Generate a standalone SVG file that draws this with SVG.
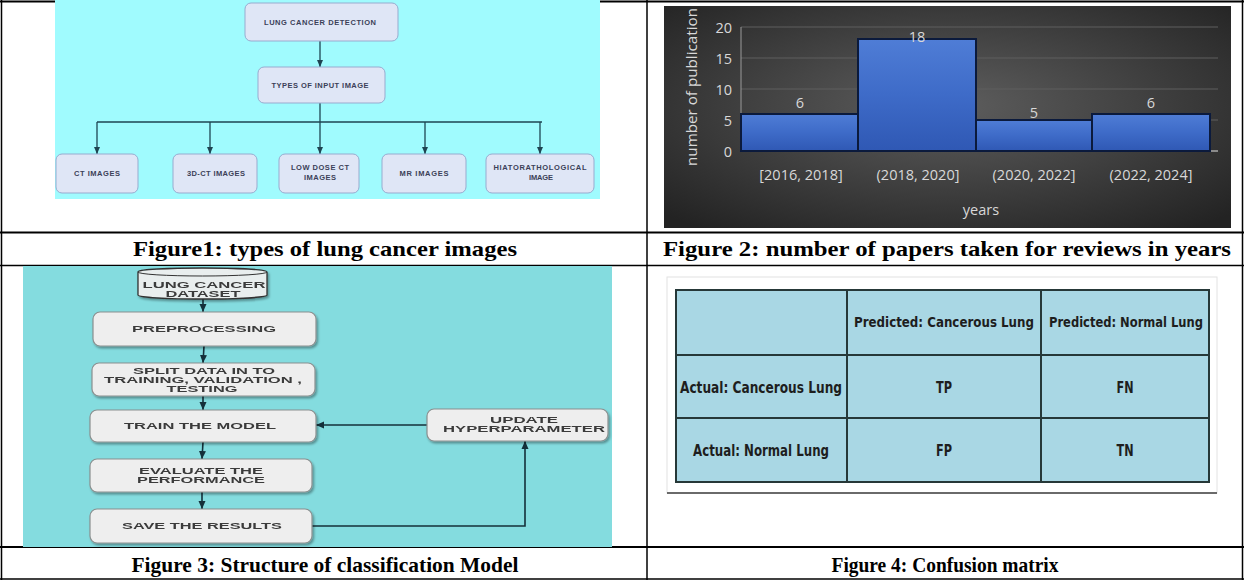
<svg xmlns="http://www.w3.org/2000/svg" width="1244" height="580" viewBox="0 0 1244 580">
<defs>
<style>
.tbl{stroke:#000;fill:none}
.cap{font-family:"Liberation Serif",serif;font-weight:bold;font-size:21px;fill:#000;text-anchor:middle}
.f1box{fill:#dfe6f6;stroke:#98abcf;stroke-width:1}
.f1t{font-family:"Liberation Sans",Arial,sans-serif;font-weight:bold;font-size:7.5px;fill:#3b3f58;text-anchor:middle}
.f1c{stroke:#1e4452;stroke-width:1.3;fill:none}
.f3box{fill:#eeeeee;stroke:#8a9090;stroke-width:1.2}
.f3t{font-family:"Liberation Sans",Arial,sans-serif;font-weight:bold;font-size:9px;fill:#3a3a3a;text-anchor:middle}
.f3c{stroke:#14303a;stroke-width:1.6;fill:none}
.ax{font-family:"Open Sans","Liberation Sans",sans-serif;font-size:14.5px;fill:#d8d8d8}
.bar{fill:url(#bg2);stroke:#0b1a3c;stroke-width:2}
.grid{stroke:#5e5e5e;stroke-width:1}
.cm{font-family:"DejaVu Sans Condensed","Liberation Sans Narrow","DejaVu Sans",sans-serif;font-weight:bold;font-size:16.5px;fill:#1e1e1e;text-anchor:middle}
.cmh{font-size:14.5px}
.cml{stroke:#263838;stroke-width:2;fill:none}
</style>
<marker id="a1" markerUnits="userSpaceOnUse" markerWidth="8" markerHeight="8" refX="7" refY="4" orient="auto"><path d="M0,1 L7,4 L0,7 Z" fill="#1e4452"/></marker>
<marker id="a3" markerUnits="userSpaceOnUse" markerWidth="9" markerHeight="9" refX="8" refY="4.5" orient="auto"><path d="M0,1 L8,4.5 L0,8 Z" fill="#14303a"/></marker>
<radialGradient id="bg1" cx="0.5" cy="0.45" r="0.7"><stop offset="0" stop-color="#5e5e5e"/><stop offset="1" stop-color="#232323"/></radialGradient>
<linearGradient id="bg2" x1="0" y1="0" x2="0" y2="1"><stop offset="0" stop-color="#4f7dd6"/><stop offset="0.5" stop-color="#3e6bc8"/><stop offset="1" stop-color="#2f58b4"/></linearGradient>
<filter id="sh" x="-10%" y="-10%" width="130%" height="140%"><feDropShadow dx="1.5" dy="2" stdDeviation="1.2" flood-color="#000" flood-opacity="0.35"/></filter>
</defs>

<g id="table">
<line class="tbl" x1="0" y1="1.5" x2="1244" y2="1.5" stroke-width="2"/>
<line class="tbl" x1="1.5" y1="0" x2="1.5" y2="580" stroke-width="1.5"/>
<line class="tbl" x1="647" y1="0" x2="647" y2="580" stroke-width="1.5"/>
<line class="tbl" x1="1242.5" y1="0" x2="1242.5" y2="580" stroke-width="1.5"/>
<line class="tbl" x1="0" y1="232.5" x2="1244" y2="232.5" stroke-width="2.2"/>
<line class="tbl" x1="0" y1="265.5" x2="1244" y2="265.5" stroke-width="1.5"/>
<line class="tbl" x1="0" y1="547" x2="1244" y2="547" stroke-width="2.2"/>
<line class="tbl" x1="0" y1="579" x2="1244" y2="579" stroke-width="1.5"/>
</g>

<g id="captions">
<text class="cap" x="325" y="256" textLength="384" lengthAdjust="spacingAndGlyphs">Figure1: types of lung cancer images</text>
<text class="cap" x="947" y="256" textLength="568" lengthAdjust="spacingAndGlyphs">Figure 2: number of papers taken for reviews in years</text>
<text class="cap" x="325" y="572" textLength="387" lengthAdjust="spacingAndGlyphs">Figure 3: Structure of classification Model</text>
<text class="cap" x="945" y="572" textLength="227" lengthAdjust="spacingAndGlyphs">Figure 4: Confusion matrix</text>
</g>

<!-- Figure 1 -->
<g id="fig1">
<rect x="55" y="0" width="545" height="199" fill="#a0fbfe"/>
<g id="fig1-connectors">
<line class="f1c" x1="320" y1="41" x2="320" y2="67" marker-end="url(#a1)"/>
<polyline class="f1c" points="320,103 320,122"/>
<line class="f1c" x1="97" y1="122" x2="542" y2="122"/>
<line class="f1c" x1="97" y1="122" x2="97" y2="154" marker-end="url(#a1)"/>
<line class="f1c" x1="210" y1="122" x2="210" y2="154" marker-end="url(#a1)"/>
<line class="f1c" x1="320" y1="122" x2="320" y2="154" marker-end="url(#a1)"/>
<line class="f1c" x1="425" y1="122" x2="425" y2="154" marker-end="url(#a1)"/>
<line class="f1c" x1="540" y1="122" x2="540" y2="154" marker-end="url(#a1)"/>
</g>
<g id="n-lcd"><rect class="f1box" x="245" y="3" width="153" height="38" rx="6"/><text class="f1t" x="320" y="25" textLength="112">LUNG CANCER DETECTION</text></g>
<g id="n-types"><rect class="f1box" x="258" y="67" width="127" height="36" rx="6"/><text class="f1t" x="320" y="88" textLength="97">TYPES OF INPUT IMAGE</text></g>
<g id="n-ct"><rect class="f1box" x="56" y="154" width="82" height="39" rx="6"/><text class="f1t" x="97" y="176" textLength="46">CT IMAGES</text></g>
<g id="n-3dct"><rect class="f1box" x="173" y="154" width="84" height="39" rx="6"/><text class="f1t" x="216" y="176" textLength="58">3D-CT IMAGES</text></g>
<g id="n-ldct"><rect class="f1box" x="279" y="154" width="80" height="39" rx="6"/><text class="f1t" x="320" y="170" textLength="58">LOW DOSE CT</text><text class="f1t" x="320" y="180" textLength="32">IMAGES</text></g>
<g id="n-mr"><rect class="f1box" x="382" y="154" width="84" height="39" rx="6"/><text class="f1t" x="424" y="176" textLength="49">MR IMAGES</text></g>
<g id="n-hist"><rect class="f1box" x="486" y="154" width="108" height="39" rx="6"/><text class="f1t" x="540" y="170" textLength="93">HIATORATHOLOGICAL</text><text class="f1t" x="541" y="180" textLength="24">IMAGE</text></g>
</g>

<!-- Figure 2 -->
<g id="fig2">
<rect x="664" y="6" width="567" height="222" fill="url(#bg1)"/>
<line class="grid" x1="741" y1="27" x2="1218" y2="27"/>
<line class="grid" x1="741" y1="58" x2="1218" y2="58"/>
<line class="grid" x1="741" y1="89" x2="1218" y2="89"/>
<line class="grid" x1="741" y1="120" x2="1218" y2="120"/>
<line x1="741" y1="27" x2="741" y2="151" stroke="#9a9a9a" stroke-width="1"/>
<line x1="741" y1="151" x2="1218" y2="151" stroke="#a8a8a8" stroke-width="1.5"/>
<g id="bars">
<rect class="bar" x="741" y="114" width="117" height="37"/>
<rect class="bar" x="858" y="39" width="118" height="112"/>
<rect class="bar" x="976" y="120" width="116" height="31"/>
<rect class="bar" x="1092" y="114" width="118" height="37"/>
</g>
<g class="ax" text-anchor="end">
<text x="732" y="33">20</text><text x="732" y="64">15</text><text x="732" y="95">10</text><text x="732" y="126">5</text><text x="732" y="157">0</text>
</g>
<g class="ax" text-anchor="middle">
<text x="800" y="108">6</text><text x="917" y="42">18</text><text x="1034" y="118">5</text><text x="1151" y="108">6</text>
<text x="801" y="180">[2016, 2018]</text><text x="918" y="180">(2018, 2020]</text><text x="1034" y="180">(2020, 2022]</text><text x="1151" y="180">(2022, 2024]</text>
<text x="981" y="215">years</text>
<text transform="translate(697,87) rotate(-90)" x="0" y="0" textLength="158" lengthAdjust="spacingAndGlyphs">number of publication</text>
</g>
</g>

<!-- Figure 3 -->
<g id="fig3">
<rect x="23" y="266" width="589" height="281" fill="#84dcdf"/>
<g id="fig3-connectors">
<line class="f3c" x1="203" y1="299" x2="203" y2="312" marker-end="url(#a3)"/>
<line class="f3c" x1="204" y1="346" x2="203" y2="363" marker-end="url(#a3)"/>
<line class="f3c" x1="203" y1="396" x2="203" y2="410" marker-end="url(#a3)"/>
<line class="f3c" x1="203" y1="442" x2="202" y2="459" marker-end="url(#a3)"/>
<line class="f3c" x1="202" y1="492" x2="202" y2="509" marker-end="url(#a3)"/>
<line class="f3c" x1="427" y1="425" x2="316" y2="425" marker-end="url(#a3)"/>
<polyline class="f3c" points="312,526 525,526 525,441" marker-end="url(#a3)"/>
</g>
<g id="n-dataset" filter="url(#sh)">
<path d="M138,272 A64.5,4 0 0 1 267,272 L267,295 A64.5,4 0 0 1 138,295 Z" fill="#e9eeee" stroke="#333" stroke-width="1.3"/>
<path d="M138,272 A64.5,4 0 0 0 267,272" fill="none" stroke="#333" stroke-width="1"/>
<text class="f3t" x="204" y="288" textLength="123" lengthAdjust="spacingAndGlyphs">LUNG CANCER</text>
<text class="f3t" x="203" y="297" textLength="75" lengthAdjust="spacingAndGlyphs">DATASET</text>
</g>
<g id="n-pre" filter="url(#sh)"><rect class="f3box" x="93" y="312" width="223" height="34" rx="7"/><text class="f3t" x="204" y="332" textLength="144" lengthAdjust="spacingAndGlyphs">PREPROCESSING</text></g>
<g id="n-split" filter="url(#sh)"><rect class="f3box" x="92" y="363" width="223" height="33" rx="7"/><text class="f3t" x="204" y="374" textLength="142" lengthAdjust="spacingAndGlyphs">SPLIT DATA IN TO</text><text class="f3t" x="203" y="383" textLength="198" lengthAdjust="spacingAndGlyphs">TRAINING, VALIDATION ,</text><text class="f3t" x="202" y="392" textLength="71" lengthAdjust="spacingAndGlyphs">TESTING</text></g>
<g id="n-train" filter="url(#sh)"><rect class="f3box" x="90" y="410" width="226" height="32" rx="7"/><text class="f3t" x="200" y="429" textLength="152" lengthAdjust="spacingAndGlyphs">TRAIN THE MODEL</text></g>
<g id="n-eval" filter="url(#sh)"><rect class="f3box" x="90" y="459" width="222" height="33" rx="7"/><text class="f3t" x="201" y="474" textLength="124" lengthAdjust="spacingAndGlyphs">EVALUATE THE</text><text class="f3t" x="201" y="483" textLength="128" lengthAdjust="spacingAndGlyphs">PERFORMANCE</text></g>
<g id="n-save" filter="url(#sh)"><rect class="f3box" x="90" y="509" width="222" height="34" rx="7"/><text class="f3t" x="202" y="529" textLength="160" lengthAdjust="spacingAndGlyphs">SAVE THE RESULTS</text></g>
<g id="n-update" filter="url(#sh)"><rect class="f3box" x="427" y="409" width="181" height="32" rx="7"/><text class="f3t" x="524" y="423" textLength="68" lengthAdjust="spacingAndGlyphs">UPDATE</text><text class="f3t" x="524" y="432" textLength="162" lengthAdjust="spacingAndGlyphs">HYPERPARAMETER</text></g>
</g>

<!-- Figure 4 -->
<g id="fig4">
<rect x="662" y="267" width="553" height="236" fill="#fff"/>
<rect x="667" y="277" width="550" height="216" fill="#fff" stroke="#e2e2e2" stroke-width="1"/>
<line x1="667" y1="493" x2="1217" y2="493" stroke="#6a6a6a" stroke-width="2"/>
<rect x="676" y="290" width="533" height="192" fill="#a9d7e4"/>
<g class="cml">
<rect x="676" y="290" width="533" height="192"/>
<line x1="847" y1="290" x2="847" y2="482"/>
<line x1="1041" y1="290" x2="1041" y2="482"/>
<line x1="676" y1="355" x2="1209" y2="355"/>
<line x1="676" y1="418" x2="1209" y2="418"/>
</g>
<text class="cm cmh" x="944" y="327" textLength="180" lengthAdjust="spacingAndGlyphs">Predicted: Cancerous Lung</text>
<text class="cm cmh" x="1126" y="327" textLength="154" lengthAdjust="spacingAndGlyphs">Predicted: Normal Lung</text>
<text class="cm" x="761" y="393" textLength="162" lengthAdjust="spacingAndGlyphs">Actual: Cancerous Lung</text>
<text class="cm" x="944" y="393" textLength="16" lengthAdjust="spacingAndGlyphs">TP</text>
<text class="cm" x="1125" y="393" textLength="17" lengthAdjust="spacingAndGlyphs">FN</text>
<text class="cm" x="761" y="456" textLength="136" lengthAdjust="spacingAndGlyphs">Actual: Normal Lung</text>
<text class="cm" x="944" y="456" textLength="16" lengthAdjust="spacingAndGlyphs">FP</text>
<text class="cm" x="1125" y="456" textLength="17" lengthAdjust="spacingAndGlyphs">TN</text>
</g>
</svg>
